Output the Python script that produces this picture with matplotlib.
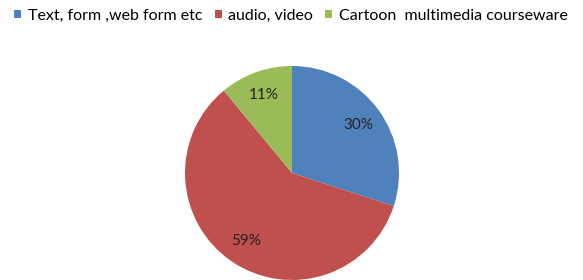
import matplotlib
matplotlib.use("Agg")
import matplotlib.pyplot as plt
from matplotlib.patches import Patch

labels = ["Text, form ,web form etc", "audio, video", "Cartoon  multimedia courseware"]
values = [30, 59, 11]
colors = ["#4F81BD", "#C0504D", "#9BBB59"]

plt.rcParams['font.family'] = ['Lato', 'DejaVu Sans']
fig = plt.figure(figsize=(5.83, 2.8), dpi=100)
ax = fig.add_axes([(292 - 107) / 583, (280 - 173 - 107) / 280, 214 / 583, 214 / 280])
wedges, texts, autotexts = ax.pie(values, colors=colors, startangle=90, counterclock=False,
                                  autopct=lambda p: '%d%%' % round(p), pctdistance=0.77,
                                  radius=1.0,
                                  textprops=dict(fontsize=11, color='#222222'))
ax.set_xlim(-1, 1)
ax.set_ylim(-1, 1)
ax.set_aspect('equal')

fs = 11.5
px = fs * 100 / 72.0
handles = [Patch(facecolor=c, edgecolor='none') for c in colors]
fig.legend(handles, labels, loc='center left', bbox_to_anchor=(14 / 583, 1 - 15.5 / 280), ncol=3,
           frameon=False, fontsize=fs, handlelength=7 / px, handleheight=7 / px,
           handletextpad=7 / px, columnspacing=12 / px, borderaxespad=0, borderpad=0)
fig.savefig("out.png", dpi=100)
